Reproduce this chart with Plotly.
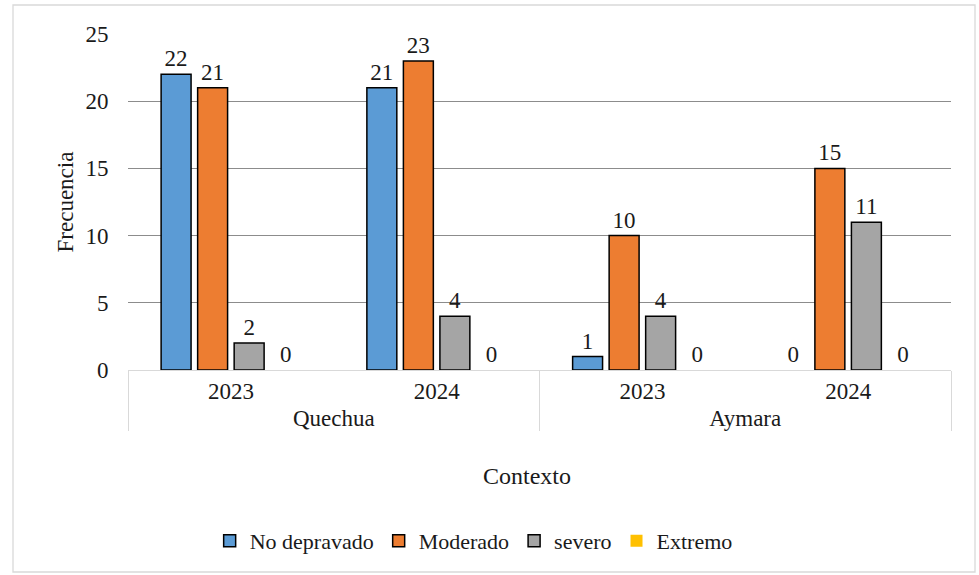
import plotly.graph_objects as go

contexto = ["Quechua", "Quechua", "Aymara", "Aymara"]
anios = ["2023", "2024", "2023", "2024"]
series = ["No depravado", "Moderado", "severo", "Extremo"]
no_depravado = [22, 21, 1, 0]
moderado = [21, 23, 10, 15]
severo = [2, 4, 4, 11]
extremo = [0, 0, 0, 0]
colores = ["#5B9BD5", "#ED7D31", "#A5A5A5", "#FFC000"]

fuente = "serif"

fig = go.Figure()
for nombre, valores, color in zip(series, [no_depravado, moderado, severo, extremo], colores):
    bordes = [1.5 if v > 0 else 0 for v in valores]
    fig.add_trace(go.Bar(
        x=[contexto, anios], y=valores, name=nombre,
        marker=dict(color=color, line=dict(color="black", width=bordes)),
        text=valores, textposition="outside", cliponaxis=False,
        textfont=dict(family=fuente, size=23, color="#1a1a1a"),
    ))

fig.update_layout(
    width=979, height=575,
    margin=dict(l=128, r=28, t=34, b=205, autoexpand=False),
    paper_bgcolor="white", plot_bgcolor="white",
    barmode="group", bargap=0.29, bargroupgap=0.18,
    font=dict(family=fuente, size=23, color="#1a1a1a"),
    showlegend=True,
    legend=dict(orientation="h", x=0.42, xanchor="center", y=-(520 - 370) / 336, yanchor="top",
                font=dict(family=fuente, size=22), itemwidth=30, traceorder="normal"),
    yaxis=dict(range=[0, 25], dtick=5, showgrid=True, gridcolor="#8c8c8c", gridwidth=1.3,
               zeroline=False, ticks="outside", ticklen=14, tickcolor="rgba(0,0,0,0)",
               tickfont=dict(family=fuente, size=23), automargin=False,
               title=dict(text="Frecuencia", font=dict(family=fuente, size=23), standoff=5)),
    xaxis=dict(showline=True, linecolor="#d9d9d9", linewidth=1.3, showdividers=True,
               dividercolor="#d9d9d9", dividerwidth=1.3, tickfont=dict(family=fuente, size=23),
               ticks="", automargin=False),
    shapes=[dict(type="rect", xref="paper", yref="paper",
                 x0=-115 / 823, x1=(975 - 128) / 823, y0=-(572 - 370) / 336, y1=(370 - 5) / 336,
                 line=dict(color="#d9d9d9", width=1.3), layer="below")],
    annotations=[dict(text="Contexto", xref="paper", yref="paper", x=0.485, y=-(476 - 370) / 336,
                      yanchor="middle", showarrow=False, font=dict(family=fuente, size=24))],
)

fig.write_html("out.html", config={"displayModeBar": False},
               post_script="document.body.style.margin='0';")
